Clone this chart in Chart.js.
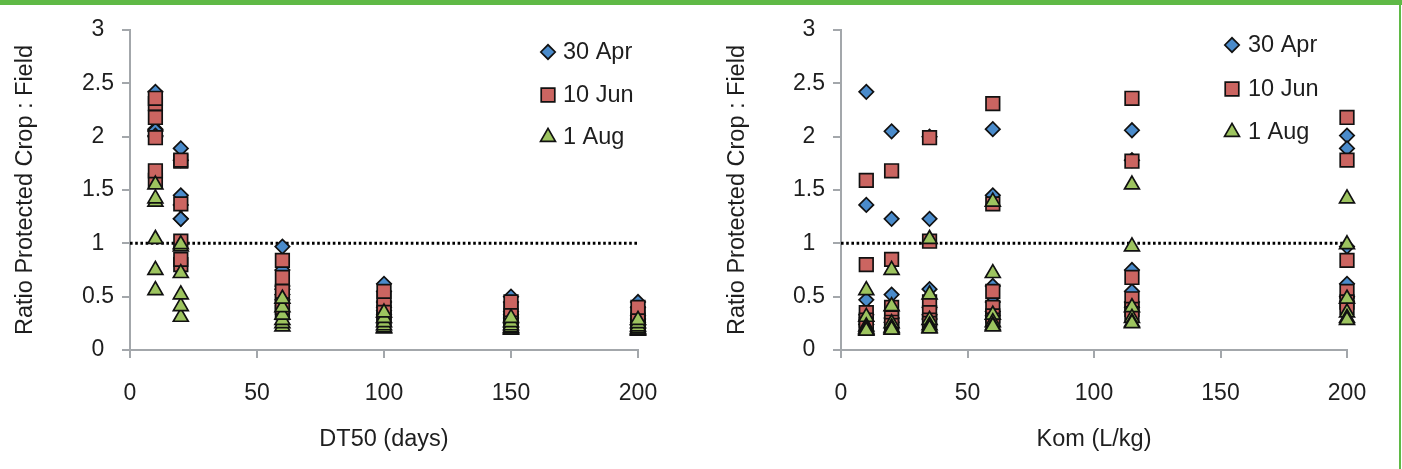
<!DOCTYPE html>
<html><head><meta charset="utf-8">
<script src="https://cdn.jsdelivr.net/npm/chart.js@4.4.1/dist/chart.umd.min.js"></script>
<style>
html,body{margin:0;padding:0;background:#fff;}
#wrap{position:relative;width:1402px;height:469px;overflow:hidden;background:#fff;}
#c1{position:absolute;left:0;top:0;}
#c2{position:absolute;left:700px;top:0;}
#topbar{position:absolute;left:0;top:0;width:1402px;height:5px;background:#5fb946;}
#rightbar{position:absolute;left:1399px;top:0;width:2px;height:469px;background:#5fb946;}
</style></head><body>
<div id="wrap">
<canvas id="c1" width="700" height="469"></canvas>
<canvas id="c2" width="700" height="469"></canvas>
<div id="topbar"></div><div id="rightbar"></div>
</div>
<script>
// ---- data ----
const dt50 = [10, 20, 60, 100, 150, 200];          // DT50 (days)
const kom  = [10, 20, 35, 60, 115, 200];           // Kom (L/kg)
const seriesNames = ['30 Apr', '10 Jun', '1 Aug'];
// ratio values: rows = DT50, columns = Kom
const apr = [
  [2.42, 2.05, 2.00, 2.07, 2.06, 2.01],
  [1.36, 1.23, 1.23, 1.45, 1.78, 1.89],
  [0.47, 0.52, 0.57, 0.60, 0.75, 0.97],
  [0.33, 0.37, 0.40, 0.45, 0.55, 0.62],
  [0.27, 0.30, 0.33, 0.36, 0.45, 0.50],
  [0.24, 0.26, 0.29, 0.32, 0.40, 0.45]
];
const jun = [
  [1.59, 1.68, 1.99, 2.31, 2.36, 2.18],
  [0.80, 0.85, 1.02, 1.37, 1.77, 1.78],
  [0.35, 0.40, 0.45, 0.55, 0.68, 0.84],
  [0.28, 0.30, 0.35, 0.40, 0.48, 0.55],
  [0.24, 0.26, 0.28, 0.32, 0.38, 0.45],
  [0.22, 0.23, 0.25, 0.28, 0.34, 0.40]
];
const aug = [
  [0.56, 0.75, 1.04, 1.39, 1.55, 1.42],
  [0.31, 0.41, 0.52, 0.72, 0.97, 0.99],
  [0.22, 0.25, 0.28, 0.33, 0.40, 0.48],
  [0.20, 0.21, 0.23, 0.26, 0.30, 0.35],
  [0.19, 0.20, 0.21, 0.23, 0.26, 0.30],
  [0.18, 0.19, 0.20, 0.22, 0.25, 0.28]
];
const xTicks = [0, 50, 100, 150, 200];
const yTicks = [0, 0.5, 1, 1.5, 2, 2.5, 3];
const refLine = 1;
const yTitle = 'Ratio Protected Crop : Field';
const xTitles = ['DT50 (days)', 'Kom (L/kg)'];

// ---- styles ----
const FONT = "'Liberation Sans', Arial, sans-serif";
const TEXT = '#1e1e1e';
const AXIS = '#a3a7ab';
Chart.defaults.font.family = FONT;
Chart.defaults.color = TEXT;

const styles = [
  {pointStyle: 'rectRot', radius: 7.2, color: '#4a8bcb'},
  {pointStyle: 'rect', radius: 9.6, color: '#cb6561'},
  {pointStyle: 'triangle', radius: 8.6, color: '#9dc45f'}
];

function points(mat, byKom) {
  const out = [];
  for (let i = 0; i < dt50.length; i++)
    for (let j = 0; j < kom.length; j++)
      out.push({x: byKom ? kom[j] : dt50[i], y: mat[i][j]});
  return out;
}

function drawMarker(ctx, st, x, y) {
  ctx.save();
  ctx.fillStyle = st.color;
  ctx.strokeStyle = '#111';
  ctx.lineWidth = 1.7;
  const r = st.radius;
  ctx.beginPath();
  if (st.pointStyle === 'rectRot') {
    ctx.moveTo(x - r, y); ctx.lineTo(x, y - r); ctx.lineTo(x + r, y); ctx.lineTo(x, y + r);
  } else if (st.pointStyle === 'rect') {
    const s = r * Math.SQRT1_2;
    ctx.rect(x - s, y - s, 2 * s, 2 * s);
  } else {
    ctx.moveTo(x, y - r);
    ctx.lineTo(x + r * Math.sin(2 * Math.PI / 3), y - r * Math.cos(2 * Math.PI / 3));
    ctx.lineTo(x + r * Math.sin(4 * Math.PI / 3), y - r * Math.cos(4 * Math.PI / 3));
  }
  ctx.closePath();
  ctx.fill(); ctx.stroke();
  ctx.restore();
}

const legendPlugin = {
  id: 'sideLegend',
  afterDatasetsDraw(chart, args, opts) {
    const ctx = chart.ctx;
    ctx.save();
    ctx.font = '23.5px ' + FONT;
    ctx.fillStyle = TEXT;
    ctx.textBaseline = 'middle';
    ctx.textAlign = 'left';
    seriesNames.forEach((name, k) => {
      const y = opts.rows[k];
      drawMarker(ctx, styles[k], opts.mx, y);
      ctx.fillText(name, opts.tx, y + 1);
    });
    ctx.restore();
  }
};

function makeChart(id, byKom, cfg) {
  const datasets = [apr, jun, aug].map((mat, k) => ({
    type: 'scatter',
    label: seriesNames[k],
    data: points(mat, byKom),
    pointStyle: styles[k].pointStyle,
    pointRadius: styles[k].radius,
    pointHoverRadius: styles[k].radius,
    backgroundColor: styles[k].color,
    borderColor: '#111',
    pointBorderWidth: 1.7,
    clip: false,
    order: 3 - k
  }));
  datasets.push({
    type: 'line',
    label: 'ref',
    data: [{x: xTicks[0], y: refLine}, {x: xTicks[xTicks.length - 1], y: refLine}],
    borderColor: '#000',
    borderWidth: 3,
    borderDash: [2.6, 2.6],
    pointRadius: 0,
    fill: false,
    clip: false,
    order: 10
  });
  return new Chart(document.getElementById(id), {
    data: {datasets},
    options: {
      responsive: false,
      animation: false,
      devicePixelRatio: 1,
      layout: {padding: {left: 0, right: cfg.right, top: 30, bottom: 0}},
      plugins: {
        legend: {display: false},
        tooltip: {enabled: false},
        sideLegend: cfg.legend
      },
      scales: {
        x: {
          type: 'linear', min: 0, max: 200,
          afterBuildTicks: s => { s.ticks = xTicks.map(v => ({value: v})); },
          afterFit: s => { s.height = 119; },
          ticks: {font: {size: 23}, color: TEXT, padding: 22, callback: v => String(v)},
          grid: {display: true, drawOnChartArea: false, drawTicks: true, tickLength: 8, color: AXIS, lineWidth: 2},
          border: {display: true, color: AXIS, width: 2},
          title: {display: true, text: xTitles[byKom ? 1 : 0], font: {size: 23.5}, color: TEXT, padding: {top: 0, bottom: 15}}
        },
        y: {
          type: 'linear', min: 0, max: 3,
          afterBuildTicks: s => { s.ticks = yTicks.map(v => ({value: v})); },
          afterFit: s => { s.width = cfg.yw; },
          ticks: {font: {size: 23}, color: TEXT, padding: 8, crossAlign: 'center', callback: v => String(v)},
          grid: {display: true, drawOnChartArea: false, drawTicks: true, tickLength: 8, color: AXIS, lineWidth: 2},
          border: {display: true, color: AXIS, width: 2},
          title: {display: true, text: yTitle, font: {size: 23.5}, color: TEXT, padding: {top: cfg.titlePad, bottom: 0}}
        }
      }
    },
    plugins: [legendPlugin]
  });
}

makeChart('c1', false, {yw: 130, right: 62, titlePad: 11, legend: {mx: 548, tx: 563, rows: [52, 95, 137]}});
makeChart('c2', true,  {yw: 141, right: 53, titlePad: 23, legend: {mx: 532, tx: 548, rows: [45, 89, 132]}});
</script>
</body></html>
